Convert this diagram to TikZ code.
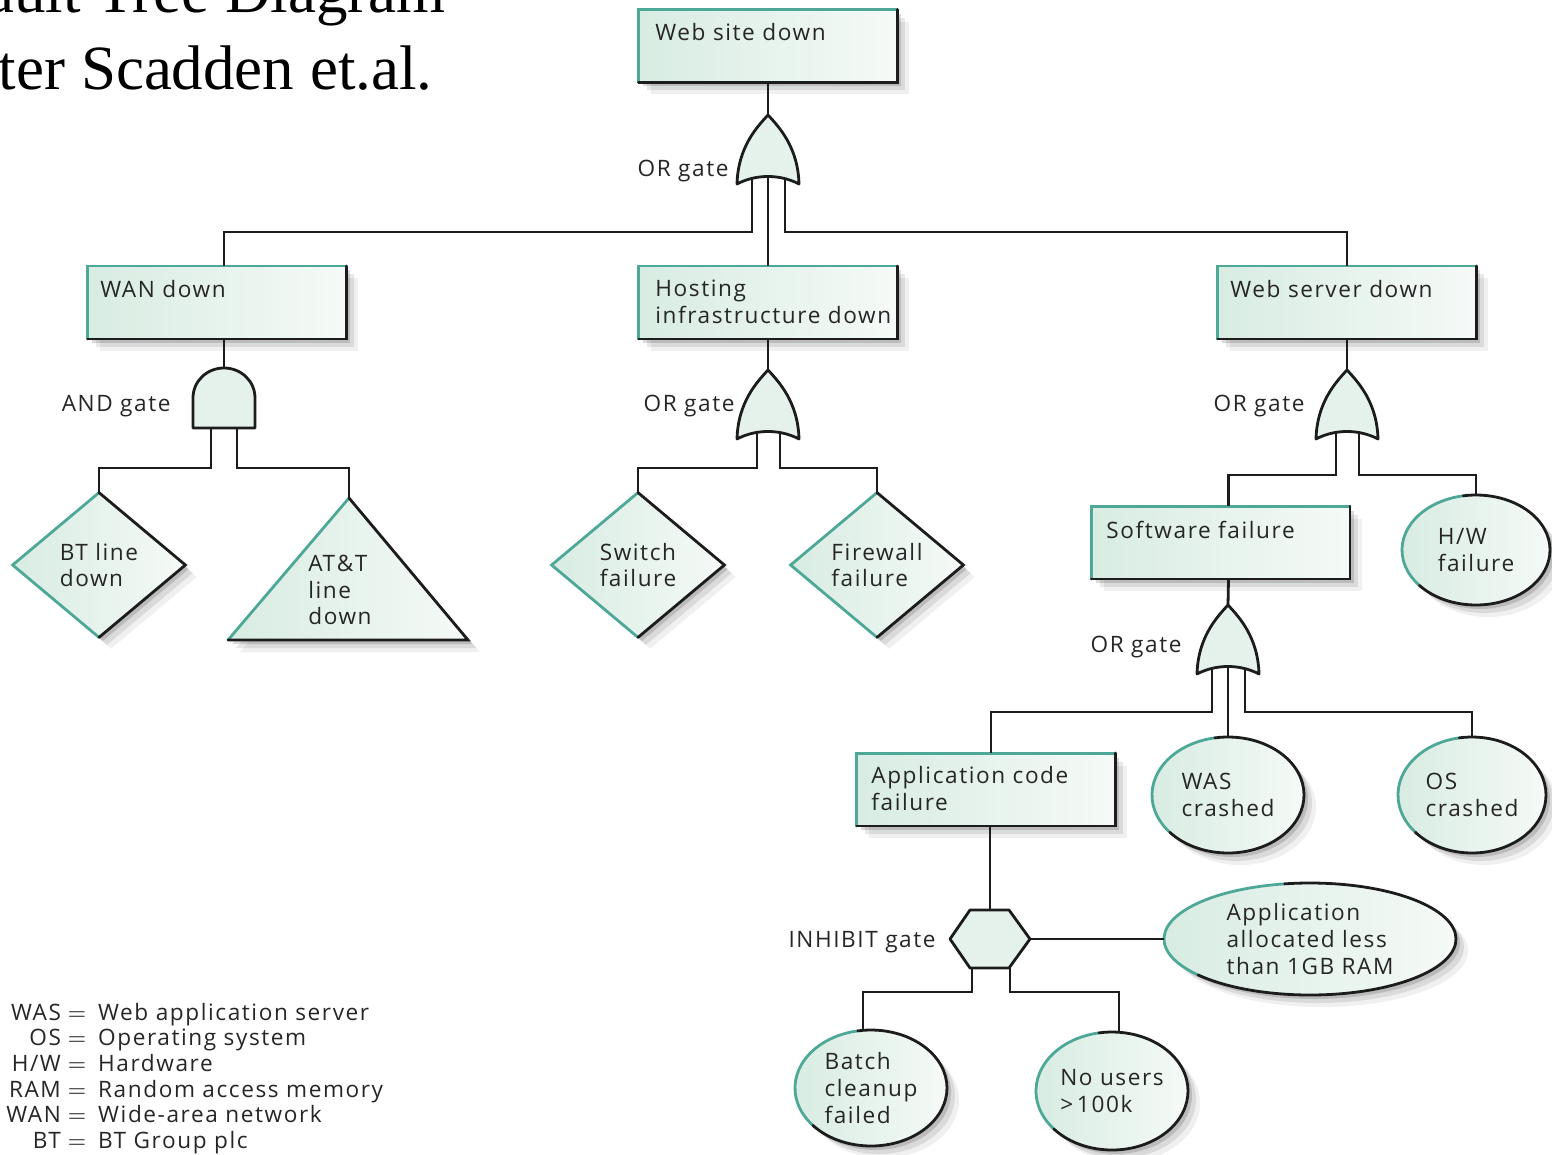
\documentclass[tikz,border=0pt]{standalone}
\usepackage{fontspec}
\setmainfont{Liberation Serif}
\newfontfamily\lblfont[LetterSpace=7]{Open Sans}
\usetikzlibrary{shapes.geometric,shadows,calc}
\definecolor{tealedge}{RGB}{78,168,152}
\definecolor{mintL}{RGB}{216,236,226}
\definecolor{mintR}{RGB}{245,250,247}
\definecolor{lineblack}{RGB}{28,28,28}
\newcommand\boxedges[1]{\draw[tedge] (#1.south west) -- (#1.north west) -- (#1.north east); \draw[kedge] (#1.north east) -- (#1.south east) -- (#1.south west);}
\newcommand\diaedges[1]{\draw[tedge] (#1.north) -- (#1.west) -- (#1.south); \draw[kedge] (#1.north) -- (#1.east) -- (#1.south);}
\newcommand\elledges[3]{\draw[tedge] (#1.center) ++(260:#2 and #3) arc[start angle=260,end angle=140,x radius=#2,y radius=#3];
 \draw[kedge] (#1.center) ++(140:#2 and #3) arc[start angle=140,end angle=-100,x radius=#2,y radius=#3];}
\newcommand\legeq{\hspace{3.5pt}{\fontsize{13}{12.8}\selectfont\color{black}$=$}\hspace{6pt}}
\tikzset{
 lbl/.style={font=\lblfont\fontsize{11.3}{13.4}\selectfont, text=black!85, align=left, inner sep=0pt},
 gatelbl/.style={font=\lblfont\fontsize{11.3}{13.4}\selectfont, text=black!85, inner sep=0pt, anchor=base east},
 conn/.style={draw=lineblack, line width=1.4pt},
 tedge/.style={draw=tealedge, line width=1.4pt, line cap=round},
 kedge/.style={draw=lineblack, line width=1.4pt, line cap=round},
 mintfill/.style={left color=mintL, right color=mintR},
 softshadow/.style={drop shadow={shadow xshift=2pt,shadow yshift=-2pt,opacity=0.14,fill=black},
   drop shadow={shadow xshift=4pt,shadow yshift=-4pt,opacity=0.09,fill=black},
   drop shadow={shadow xshift=6pt,shadow yshift=-6pt,opacity=0.06,fill=black}},
 evbox/.style={rectangle, minimum width=129pt, minimum height=36pt, inner sep=0pt, mintfill, softshadow},
 evdiamond/.style={diamond, minimum width=86pt, minimum height=72pt, mintfill, softshadow, lbl},
 evellipse/.style={ellipse, mintfill, softshadow, lbl},
 gatefill/.style={fill=mintL!70!white, draw=lineblack, line width=1.4pt, line join=round},
 orgate/.pic={
   \path[gatefill] (0,0) .. controls (11,12) and (30,32) .. (31,69)
     .. controls (12,59) and (-12,59) .. (-31,69)
     .. controls (-30,32) and (-11,12) .. (0,0) -- cycle;
   \coordinate (-top) at (0,0);
   \coordinate (-l) at (-16,64); \coordinate (-c) at (0,62); \coordinate (-r) at (17,64);
   \coordinate (-l2) at (-11,63); \coordinate (-r2) at (12,63);
 },
 andgate/.pic={
   \path[gatefill] (-31,60) -- (-31,30) .. controls (-31,13) and (-17,0) .. (0,0)
     .. controls (17,0) and (31,13) .. (31,30) -- (31,60) -- cycle;
   \coordinate (-top) at (0,0);
   \coordinate (-l) at (-13,60); \coordinate (-r) at (13,60);
 }
}
\begin{document}
\begin{tikzpicture}[x=0.5pt,y=-0.5pt]
\useasboundingbox (0,0) rectangle (1552,1155);
% title
\node[anchor=base east, font=\fontsize{31.5}{38}\selectfont, inner sep=0pt] (title1) at (446,13) {Fault Tree Diagram};
\node[anchor=base east, font=\fontsize{31.5}{38}\selectfont, inner sep=0pt] (title2) at (433,90) {After Scadden et.al.};

% boxes
\node[evbox] (ws) at (768,46) {};
\node[evbox] (wan) at (217,302.5) {};
\node[evbox] (host) at (768,302.5) {};
\node[evbox] (wsd) at (1347,302.5) {};
\node[evbox] (sw) at (1220.5,542.5) {};
\node[evbox] (app) at (986,789.5) {};
\foreach \n in {ws,wan,host,wsd,sw,app} {\boxedges{\n}}
\node[lbl, anchor=north west] (wst) at (655,23) {Web site down};
\node[lbl, anchor=north west] (want) at (100,280) {WAN down};
\node[lbl, anchor=north west] (hostt) at (655,280) {Hosting\\infrastructure down};
\node[lbl, anchor=north west] (wsdt) at (1230,280) {Web server down};
\node[lbl, anchor=north west] (swt) at (1106,521) {Software failure};
\node[lbl, anchor=north west] (appt) at (871,766) {Application code\\failure};

% diamonds
\node[evdiamond] (bt) at (99,565) {BT line\\down};
\node[evdiamond] (swf) at (638,565) {Switch\\failure};
\node[evdiamond] (fwf) at (877,565) {Firewall\\failure};
\foreach \n in {bt,swf,fwf} {\diaedges{\n}}

% triangle
\coordinate (attA) at (349,498); \coordinate (attL) at (228,640); \coordinate (attR) at (468,640);
\path[mintfill, softshadow] (attA) -- (attR) -- (attL) -- cycle;
\draw[tedge] (attL) -- (attA); \draw[kedge] (attA) -- (attR) -- (attL);
\node[lbl] (att) at (340,590) {AT\&T\\line\\down};

% ellipses
\node[evellipse, minimum width=74pt, minimum height=55pt] (hw) at (1476,550) {H/W\\failure};
\node[evellipse, minimum width=76pt, minimum height=58pt] (was) at (1228,795) {WAS\\crashed};
\node[evellipse, minimum width=74pt, minimum height=58pt] (os) at (1472,795) {OS\\crashed};
\node[evellipse, minimum width=146pt, minimum height=56pt] (ram) at (1310,939) {Application\\allocated less\\than 1GB RAM};
\node[evellipse, minimum width=76pt, minimum height=58pt] (batch) at (871,1088) {Batch\\cleanup\\failed};
\node[evellipse, minimum width=76pt, minimum height=59pt] (nou) at (1112,1091) {No users\\{>}\,100k};
\elledges{hw}{74}{55}
\elledges{was}{76}{58}
\elledges{os}{74}{58}
\elledges{ram}{146}{56}
\elledges{batch}{76}{58}
\elledges{nou}{76}{59}

% connectors
\draw[conn] (ws.south) -- (768,115);
\draw[conn] ($(wan.south)+(7,0)$) -- (224,368);
\draw[conn] (host.south) -- (768,370);
\draw[conn] (wsd.south) -- (1347,370);
\draw[conn] ($(sw.south)+(8,0)$) -- (1228,605);
\draw[conn] ($(app.south)+(4,0)$) -- (990,910);

% gates
\pic (g1) at (768,115) {orgate};
\pic (g2) at (768,370) {orgate};
\pic (g3) at (1347,370) {orgate};
\pic (g4) at (1228,605) {orgate};
\pic (ga) at (224,368) {andgate};
\path[gatefill] (950,939) coordinate (hxL) -- (970,910) -- (1009,910) -- (1030,939) coordinate (hxR) -- (1009,968) -- (970,968) -- cycle;
\coordinate (hxT) at (990,910); \coordinate (hxBL) at (972,968); \coordinate (hxBR) at (1010,968);

\draw[conn] (g1-l) -- ++(0,53) -| ($(wan.north)+(7,0)$);
\draw[conn] (g1-c) -- (host.north);
\draw[conn] (g1-r) -- ++(0,53) -| (wsd.north);
\draw[conn] (ga-l) -- ++(0,40) -| (bt.north);
\draw[conn] (ga-r) -- ++(0,40) -| (attA);
\draw[conn] (g2-l2) -- ++(0,35) -| (swf.north);
\draw[conn] (g2-r2) -- ++(0,35) -| (fwf.north);
\draw[conn] (g3-l2) -- ++(0,42) -| ($(sw.north)+(8,0)$);
\draw[conn] (g3-r2) -- ++(0,42) -| (hw.north);
\draw[conn] (g4-l) -- ++(0,43) -| ($(app.north)+(5,0)$);
\draw[conn] (g4-c) -- (was.north);
\draw[conn] (g4-r) -- ++(0,43) -| (os.north);
\draw[conn] (hxR) -- (ram.west);
\draw[conn] (hxBL) -- ++(0,24) -| ($(batch.north)+(-8,0)$);
\draw[conn] (hxBR) -- ++(0,24) -| ($(nou.north)+(7,0)$);

% gate labels
\node[gatelbl] (l1) at (729,177) {OR gate};
\node[gatelbl] (l2) at (735,411) {OR gate};
\node[gatelbl] (l3) at (1305,411) {OR gate};
\node[gatelbl] (l4) at (1182,652) {OR gate};
\node[gatelbl] (la) at (171,411) {AND gate};
\node[gatelbl] (lh) at (936,947) {INHIBIT gate};

% legend
\node[lbl, font=\lblfont\fontsize{11.3}{12.8}\selectfont, anchor=north west] (legend) at (6,1002) {\begin{tabular}{@{}r@{\legeq}l@{}}
WAS & Web application server\\
OS & Operating system\\
H/W & Hardware\\
RAM & Random access memory\\
WAN & Wide-area network\\
BT & BT Group plc
\end{tabular}};
\end{tikzpicture}
\end{document}
